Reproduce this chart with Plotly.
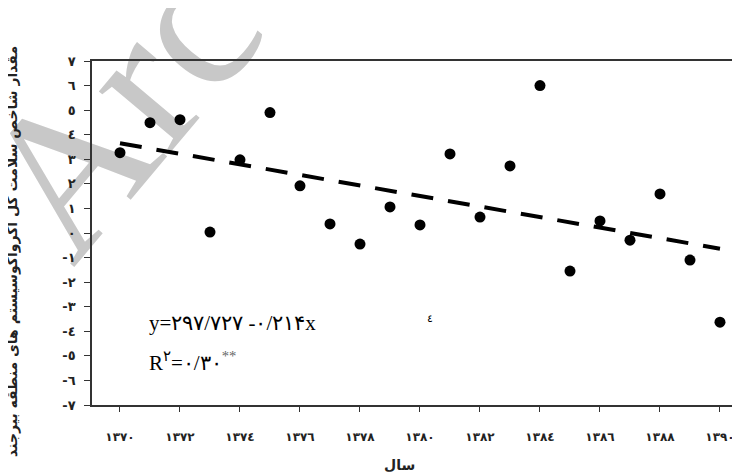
import numpy as np
import plotly.graph_objects as go

years = list(range(1370, 1391))
health_index = [3.27, 4.49, 4.61, 0.04, 2.98, 4.90, 1.92, 0.37, -0.45, 1.06, 0.33,
                3.22, 0.65, 2.73, 6.00, -1.55, 0.49, -0.29, 1.59, -1.10, -3.63]

x_tick_vals = list(range(1370, 1391, 2))
x_tick_text = ["١٣٧٠", "١٣٧٢", "١٣٧٤", "١٣٧٦", "١٣٧٨", "١٣٨٠",
               "١٣٨٢", "١٣٨٤", "١٣٨٦", "١٣٨٨", "١٣٩٠"]
y_tick_vals = list(range(7, -8, -1))
y_tick_text = ["٧", "٦", "٥", "٤", "٣", "٢", "١", "٠",
               "-١", "-٢", "-٣", "-٤", "-٥", "-٦", "-٧"]

y_title = "مقدار شاخص سلامت کل آگرواکوسیستم های منطقه بیرجند"
x_title = "سال"
eq_text = "y=۲۹۷/۷۲۷ -۰/۲۱۴x"
r2_text = "R<sup>۲</sup>=۰/۳۰<sup><span style='color:#666'>**</span></sup>"
watermark = "Arc"

# linear fit from the data
slope, intercept = np.polyfit(years, health_index, 1)
fit_x = [years[0], years[-1]]
fit_y = [intercept + slope * v for v in fit_x]

AR_FONT = "DejaVu Sans"

fig = go.Figure()
fig.add_trace(go.Scatter(
    x=fit_x, y=fit_y, mode="lines",
    line=dict(color="black", width=4, dash="22px,15px"),
    hoverinfo="skip", showlegend=False))
fig.add_trace(go.Scatter(
    x=years, y=health_index, mode="markers",
    marker=dict(color="black", size=11, symbol="circle"),
    showlegend=False))

fig.update_layout(
    width=732, height=467,
    margin=dict(l=84, r=0, t=53, b=70),
    paper_bgcolor="white", plot_bgcolor="white",
    font=dict(family=AR_FONT, color="#222"),
    xaxis=dict(
        range=[1369.067, 1390.667],
        tickvals=x_tick_vals, ticktext=x_tick_text,
        ticks="outside", ticklen=5, tickcolor="#333", tickwidth=1,
        showline=True, linecolor="#333", linewidth=1.5, mirror=True,
        showgrid=False, zeroline=False,
        tickfont=dict(family=AR_FONT, size=12, color="#222", weight="bold"),
        ticklabelstandoff=15,
    ),
    yaxis=dict(
        range=[-7, 7],
        tickvals=y_tick_vals, ticktext=y_tick_text,
        ticks="outside", ticklen=6, tickcolor="#333", tickwidth=1,
        showline=True, linecolor="#333", linewidth=1.5,
        showgrid=False, zeroline=False,
        tickfont=dict(family=AR_FONT, size=13, color="#222", weight="bold"),
        ticklabelstandoff=6,
    ),
)

# watermark drawn beneath the data
cx, cy = 0.015, 0.91
fig.add_shape(
    type="rect", xref="paper", yref="paper",
    x0=cx - 0.05, x1=cx + 0.05, y0=cy - 0.05, y1=cy + 0.05,
    line=dict(width=0), fillcolor="rgba(0,0,0,0)", layer="below",
    label=dict(text=watermark, textangle=-50, textposition="middle center",
               font=dict(family="Liberation Serif", size=205, color="#c8c8c8")),
)

annotations = [
    dict(text=y_title, xref="paper", yref="paper", x=0, y=0.445, xshift=-80,
         showarrow=False, textangle=-90, xanchor="center", yanchor="middle",
         font=dict(family=AR_FONT, size=14, color="#222", weight="bold")),
    dict(text=x_title, xref="paper", yref="paper", x=0.474, y=0, yshift=-60,
         showarrow=False, xanchor="center", yanchor="middle",
         font=dict(family=AR_FONT, size=14, color="#222", weight="bold")),
    dict(text=eq_text, xref="paper", yref="paper", x=0, y=1, xshift=55, yshift=-262,
         showarrow=False, xanchor="left", yanchor="middle",
         font=dict(family="Liberation Serif", size=21, color="black")),
    dict(text=r2_text, xref="paper", yref="paper", x=0, y=1, xshift=55, yshift=-300,
         showarrow=False, xanchor="left", yanchor="middle",
         font=dict(family="Liberation Serif", size=21, color="black")),
    dict(text="٤", xref="paper", yref="paper", x=0, y=1, xshift=338, yshift=-257,
         showarrow=False, xanchor="center", yanchor="middle",
         font=dict(family=AR_FONT, size=11, color="black")),
]
fig.update_layout(annotations=annotations)

fig.write_html("out.html")
